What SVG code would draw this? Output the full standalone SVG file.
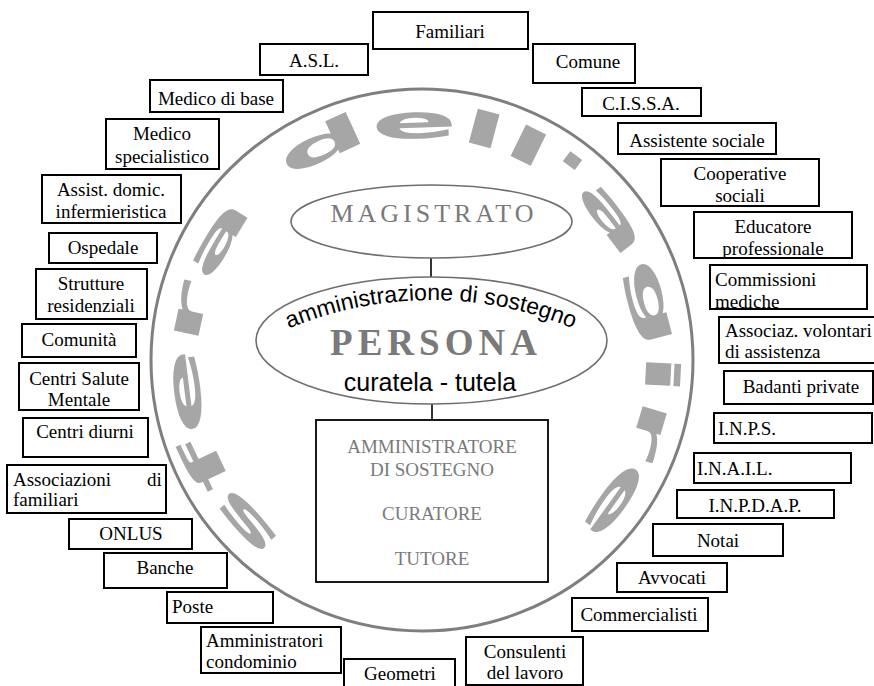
<svg xmlns="http://www.w3.org/2000/svg" width="874" height="686" viewBox="0 0 874 686">
<style>
.box rect{fill:#fff;stroke:#000;stroke-width:2}
.t{font-family:"Liberation Serif","Times New Roman",serif;font-size:19px;fill:#000}
.c{text-anchor:middle}
.gr{font-family:"Liberation Serif","Times New Roman",serif;fill:#7a7a7a;text-anchor:middle}
.ell{fill:#fff;stroke:#6e6e6e;stroke-width:1.6}
.conn line{stroke:#000;stroke-width:1.6}
.sans{font-family:"Liberation Sans",Arial,sans-serif;fill:#000}
</style>
<defs>
<path id="ring" d="M284.1,538.5 A224,224 0 1 1 574.8,525.8"/>
<path id="arcAmm" d="M283,331 A370,370 0 0 1 579,331"/>
<clipPath id="clEdu"><rect x="694" y="212" width="158" height="45"/></clipPath>
<clipPath id="clCom"><rect x="710" y="265" width="157" height="43"/></clipPath>
</defs>

<circle cx="422" cy="360" r="271" fill="none" stroke="#7f7f7f" stroke-width="3"/>
<text font-family="DejaVu Sans,sans-serif" font-weight="bold" font-size="46" fill="#a6a6a6"><textPath href="#ring" textLength="1090" lengthAdjust="spacingAndGlyphs">sfera dell'agire</textPath></text>

<g class="conn" id="connectors">
<line x1="431" y1="258" x2="431" y2="277"/>
<line x1="432" y1="404" x2="432" y2="420"/>
</g>

<g id="magistrato">
<ellipse class="ell" cx="431.5" cy="221.5" rx="140.5" ry="36.5"/>
<text class="gr" x="434" y="222" font-size="26" letter-spacing="4">MAGISTRATO</text>
</g>
<g id="persona">
<ellipse class="ell" cx="431.5" cy="340.5" rx="175.5" ry="63.5"/>
<text class="sans" font-size="23" text-anchor="middle"><textPath href="#arcAmm" startOffset="50%">amministrazione di sostegno</textPath></text>
<text class="gr" x="436" y="355" font-size="37" font-weight="bold" letter-spacing="5">PERSONA</text>
<text class="sans" x="430" y="391" font-size="25" text-anchor="middle">curatela - tutela</text>
</g>
<g id="amministratore" class="box">
<rect x="316" y="420" width="232" height="162" style="stroke-width:1.8"/>
<text class="gr" x="432" y="453" font-size="19">AMMINISTRATORE</text>
<text class="gr" x="432" y="476" font-size="19">DI SOSTEGNO</text>
<text class="gr" x="432" y="520" font-size="19">CURATORE</text>
<text class="gr" x="432" y="565" font-size="19">TUTORE</text>
</g>

<g id="familiari" class="box"><rect x="373" y="12" width="155" height="37"/><text class="t c" x="450" y="38">Familiari</text></g>
<g id="asl" class="box"><rect x="260" y="44" width="108" height="31"/><text class="t c" x="314" y="67">A.S.L.</text></g>
<g id="comune" class="box"><rect x="533" y="44" width="102" height="39"/><text class="t c" x="588" y="68">Comune</text></g>
<g id="medico-base" class="box"><rect x="150" y="80" width="133" height="32"/><text class="t c" x="216" y="105">Medico di base</text></g>
<g id="cissa" class="box"><rect x="582" y="88" width="119" height="28"/><text class="t c" x="641" y="110">C.I.S.S.A.</text></g>
<g id="medico-spec" class="box"><rect x="106" y="119" width="113" height="50"/><text class="t c" x="162" y="140">Medico</text><text class="t c" x="162" y="163">specialistico</text></g>
<g id="assistente" class="box"><rect x="618" y="123" width="158" height="31"/><text class="t c" x="697" y="147">Assistente sociale</text></g>
<g id="assist-domic" class="box"><rect x="42" y="175" width="139" height="48"/><text class="t c" x="111" y="196">Assist. domic.</text><text class="t c" x="111" y="218">infermieristica</text></g>
<g id="cooperative" class="box"><rect x="661" y="159" width="158" height="47"/><text class="t c" x="740" y="180">Cooperative</text><text class="t c" x="740" y="202">sociali</text></g>
<g id="ospedale" class="box"><rect x="49" y="233" width="108" height="30"/><text class="t c" x="103" y="254">Ospedale</text></g>
<g id="educatore" class="box"><rect x="694" y="212" width="158" height="46"/><g clip-path="url(#clEdu)"><text class="t c" x="773" y="233">Educatore</text><text class="t c" x="773" y="255">professionale</text></g></g>
<g id="strutture" class="box"><rect x="36" y="269" width="111" height="50"/><text class="t c" x="91" y="290">Strutture</text><text class="t c" x="91" y="312">residenziali</text></g>
<g id="commissioni" class="box"><rect x="710" y="265" width="157" height="44"/><g clip-path="url(#clCom)"><text class="t" x="715" y="286">Commissioni</text><text class="t" x="715" y="308">mediche</text></g></g>
<g id="comunita" class="box"><rect x="22" y="324" width="114" height="33"/><text class="t c" x="79" y="346">Comunità</text></g>
<g id="associaz-vol" class="box"><rect x="719" y="317" width="170" height="46"/><text class="t" x="725" y="337">Associaz. volontari</text><text class="t" x="725" y="358">di assistenza</text></g>
<g id="centri-salute" class="box"><rect x="19" y="363" width="120" height="47"/><text class="t c" x="79" y="385">Centri Salute</text><text class="t c" x="79" y="406">Mentale</text></g>
<g id="badanti" class="box"><rect x="724" y="371" width="149" height="33"/><text class="t c" x="801" y="393">Badanti private</text></g>
<g id="centri-diurni" class="box"><rect x="23" y="418" width="125" height="39"/><text class="t c" x="85" y="438">Centri diurni</text></g>
<g id="inps" class="box"><rect x="714" y="413" width="158" height="30"/><text class="t" x="718" y="435">I.N.P.S.</text></g>
<g id="associazioni-fam" class="box"><rect x="7" y="465" width="159" height="48"/><text class="t" x="13" y="486" word-spacing="31">Associazioni di</text><text class="t" x="13" y="506">familiari</text></g>
<g id="inail" class="box"><rect x="694" y="453" width="157" height="30"/><text class="t" x="697" y="475">I.N.A.I.L.</text></g>
<g id="onlus" class="box"><rect x="69" y="519" width="123" height="30"/><text class="t c" x="131" y="540">ONLUS</text></g>
<g id="inpdap" class="box"><rect x="677" y="490" width="157" height="28"/><text class="t c" x="755" y="512">I.N.P.D.A.P.</text></g>
<g id="banche" class="box"><rect x="104" y="553" width="123" height="35"/><text class="t c" x="165" y="574">Banche</text></g>
<g id="notai" class="box"><rect x="653" y="524" width="130" height="32"/><text class="t c" x="718" y="547">Notai</text></g>
<g id="poste" class="box"><rect x="167" y="592" width="106" height="31"/><text class="t" x="172" y="613">Poste</text></g>
<g id="avvocati" class="box"><rect x="617" y="563" width="110" height="29"/><text class="t c" x="672" y="584">Avvocati</text></g>
<g id="amm-condominio" class="box"><rect x="201" y="627" width="140" height="46"/><text class="t" x="206" y="647">Amministratori</text><text class="t" x="206" y="668">condominio</text></g>
<g id="commercialisti" class="box"><rect x="572" y="598" width="136" height="33"/><text class="t c" x="639" y="621">Commercialisti</text></g>
<g id="geometri" class="box"><rect x="344" y="659" width="111" height="36"/><text class="t c" x="400" y="680">Geometri</text></g>
<g id="consulenti" class="box"><rect x="466" y="637" width="117" height="48"/><text class="t c" x="525" y="658">Consulenti</text><text class="t c" x="525" y="679">del lavoro</text></g>
</svg>
